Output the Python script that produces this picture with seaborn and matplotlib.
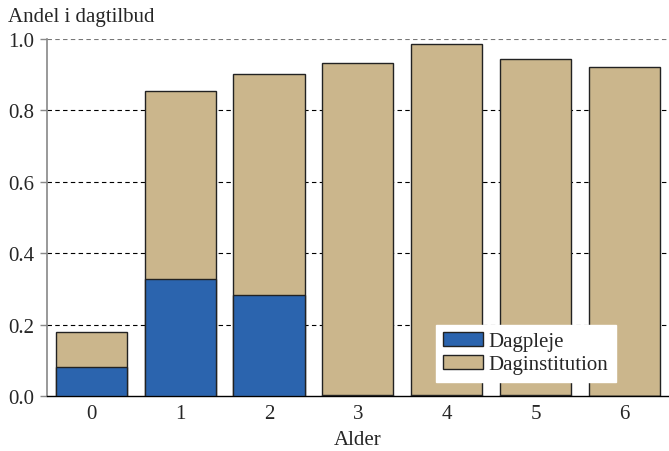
import matplotlib
matplotlib.use("Agg")
import matplotlib.pyplot as plt
import seaborn as sns
import pandas as pd
import numpy as np

# data
ages = ["0", "1", "2", "3", "4", "5", "6"]
dagpleje = [0.081, 0.328, 0.283, 0.003, 0.003, 0.003, 0.0]
total = [0.179, 0.854, 0.902, 0.933, 0.986, 0.944, 0.922]

BLUE = "#2B64AE"
TAN = "#CBB68C"
FS = 15

df = pd.DataFrame({"Alder": ages, "Dagpleje": dagpleje, "Total": total})

sns.set_style("white")
plt.rcParams["font.family"] = ["Liberation Serif", "DejaVu Serif"]

fig = plt.figure(figsize=(6.69, 4.52), dpi=100)
ax = fig.add_axes([0.070, 0.1217, 0.930, 0.7898])

# gridlines behind bars
for y in [0.2, 0.4, 0.6, 0.8]:
    ax.axhline(y, color="black", linestyle=(0, (4, 3)), linewidth=0.8, zorder=0)
ax.axhline(1.0, color="#777777", linestyle=(0, (4, 3)), linewidth=0.8, zorder=0)

sns.barplot(data=df, x="Alder", y="Total", color=TAN, width=0.8, saturation=1,
            edgecolor="#222222", linewidth=1.0, ax=ax, label="Daginstitution",
            zorder=2)
sns.barplot(data=df, x="Alder", y="Dagpleje", color=BLUE, width=0.8, saturation=1,
            edgecolor="#222222", linewidth=1.0, ax=ax, label="Dagpleje",
            zorder=3)

ax.set_xlim(-0.5, 6.5)
ax.set_ylim(0, 1.0)
ax.set_yticks([0.0, 0.2, 0.4, 0.6, 0.8, 1.0])
ax.set_yticklabels(["0.0", "0.2", "0.4", "0.6", "0.8", "1.0"], fontsize=FS)
ax.set_xticks(range(len(ages)))
ax.set_xticklabels(ages, fontsize=FS)
ax.set_xticks(np.arange(-0.5, 7.0, 1.0), minor=True)
ax.tick_params(axis="x", which="major", length=0, pad=6)
ax.tick_params(axis="x", which="minor", length=6, width=1, color="#444444",
               direction="out")
ax.tick_params(axis="y", length=5, width=1, color="#888888", direction="out",
               pad=4, left=True)

for s in ["top", "right"]:
    ax.spines[s].set_visible(False)
ax.spines["left"].set_color("#888888")
ax.spines["left"].set_linewidth(1.2)
ax.spines["bottom"].set_color("black")
ax.spines["bottom"].set_linewidth(1.0)

ax.set_xlabel("Alder", fontsize=FS, labelpad=5)
ax.set_ylabel("")
fig.text(0.012, 0.962, "Andel i dagtilbud", fontsize=FS, va="center", ha="left")

handles, labels = ax.get_legend_handles_labels()
order = [labels.index("Dagpleje"), labels.index("Daginstitution")]
leg = ax.legend([handles[i] for i in order], [labels[i] for i in order],
                loc="lower left", bbox_to_anchor=(0.625, 0.04), fontsize=FS,
                frameon=True, framealpha=1, edgecolor="white", fancybox=False,
                handlelength=1.9, handleheight=0.6, handletextpad=0.3,
                labelspacing=0.2, borderpad=0.35, borderaxespad=0)
leg.set_zorder(5)

fig.savefig("out.png", dpi=100)
